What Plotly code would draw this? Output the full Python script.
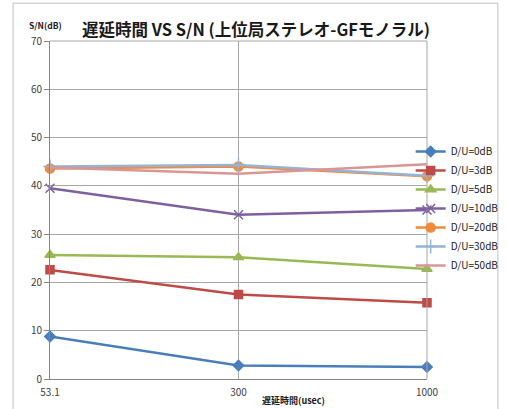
import plotly.graph_objects as go

categories = ["53.1", "300", "1000"]
series_names = ["D/U=0dB", "D/U=3dB", "D/U=5dB", "D/U=10dB", "D/U=20dB", "D/U=30dB", "D/U=50dB"]
du0 = [8.8, 2.8, 2.5]
du3 = [22.6, 17.5, 15.8]
du5 = [25.7, 25.2, 22.8]
du10 = [39.5, 34.0, 35.0]
du20 = [43.6, 44.0, 42.0]
du30 = [44.0, 44.3, 42.1]
du50 = [43.8, 42.5, 44.5]
y_ticks = [0, 10, 20, 30, 40, 50, 60, 70]

values = [du0, du3, du5, du10, du20, du30, du50]
colors = ["#4A7EBB", "#BE4B48", "#98B954", "#7D60A0", "#F08A3C", "#95B3D7", "#D99694"]
symbols = ["diamond", "square", "triangle-up", "x-thin-open", "circle", "cross-thin-open", None]
sizes = [8, 8, 9, 9, 9, 10, 0]

fig = go.Figure()
for name, vals, col, sym, sz in zip(series_names, values, colors, symbols, sizes):
    if sym is None:
        fig.add_trace(go.Scatter(x=categories, y=vals, name=name, mode="lines",
                                 line=dict(color=col, width=2.5), cliponaxis=False))
    else:
        fig.add_trace(go.Scatter(x=categories, y=vals, name=name, mode="lines+markers",
                                 line=dict(color=col, width=2.5),
                                 marker=dict(symbol=sym, size=sz, color=col,
                                             line=dict(color=col, width=1.5)),
                                 cliponaxis=False))

font_family = "Noto Sans CJK JP, Noto Sans, sans-serif"
fig.update_layout(
    width=507, height=409,
    margin=dict(l=50, r=80, t=41, b=30, autoexpand=False),
    paper_bgcolor="white", plot_bgcolor="white",
    font=dict(family=font_family, size=10, color="#404040"),
    title=dict(text="<b>遅延時間 VS S/N (上位局ステレオ-GFモノラル)</b>",
               font=dict(size=16.5, color="#1a1a1a", family=font_family),
               x=0.505, xanchor="center", y=0.925, yanchor="middle"),
    showlegend=True,
    legend=dict(xref="container", yref="container", x=0.81, xanchor="left",
                y=0.49, yanchor="middle",
                font=dict(size=10, color="#1a1a1a"), tracegroupgap=0,
                itemwidth=30, bgcolor="rgba(0,0,0,0)"),
    xaxis=dict(type="category", range=[0, 2], showgrid=True, gridcolor="#A6A6A6",
               gridwidth=1, showline=True, linecolor="#868686", linewidth=1,
               ticks="", tickfont=dict(size=10, color="#404040"), ticklabelstandoff=4,
               zeroline=False, automargin=False),
    yaxis=dict(range=[0, 70], tickvals=y_ticks, showgrid=True, gridcolor="#A6A6A6",
               gridwidth=1, showline=True, linecolor="#868686", linewidth=1,
               ticks="outside", ticklen=5, tickcolor="#868686",
               tickfont=dict(size=10, color="#404040"), zeroline=False, automargin=False),
    annotations=[
        dict(text="<b>S/N(dB)</b>", xref="paper", yref="paper", x=-0.013, y=1.046,
             xanchor="center", yanchor="middle", showarrow=False,
             font=dict(size=8.5, color="#1a1a1a")),
        dict(text="<b>遅延時間(usec)</b>", xref="paper", yref="paper", x=0.645, y=-0.065,
             xanchor="center", yanchor="middle", showarrow=False,
             font=dict(size=9, color="#1a1a1a")),
    ],
    shapes=[
        dict(type="rect", xref="paper", yref="paper", x0=-0.098, x1=1.188, y0=-0.12, y1=1.112,
             line=dict(color="#BFBFBF", width=1), fillcolor="rgba(0,0,0,0)", layer="below"),
        dict(type="line", xref="paper", yref="paper", x0=0, x1=1, y0=1, y1=1,
             line=dict(color="#A6A6A6", width=1)),
        dict(type="line", xref="paper", yref="paper", x0=1, x1=1, y0=0, y1=1,
             line=dict(color="#A6A6A6", width=1)),
    ],
)

fig.write_html("out.html", config={"displayModeBar": False},
               post_script="document.body.style.margin='0';")
